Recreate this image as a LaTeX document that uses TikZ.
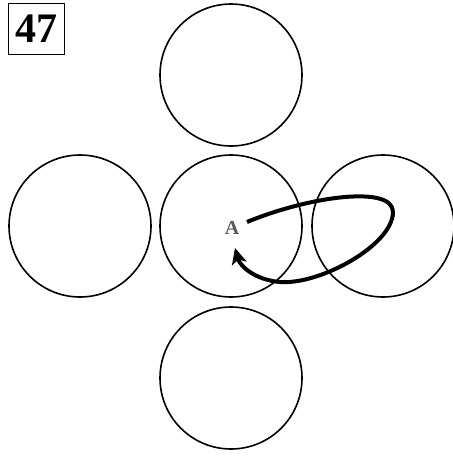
\documentclass[tikz,border=0pt]{standalone}
\usepackage{fontspec}
\setmainfont{Liberation Serif}
\usetikzlibrary{arrows.meta}
\begin{document}
\begin{tikzpicture}[x=1pt,y=-1pt,
  ring/.style={draw,circle,line width=1.6pt,minimum size=142pt,inner sep=0pt},
  numbox/.style={draw,line width=0.8pt,minimum width=56pt,minimum height=51pt,inner sep=0pt,font=\bfseries\fontsize{42}{44}\selectfont},
  lbl/.style={font=\bfseries\fontsize{20}{22}\selectfont,text=black!65}]
\useasboundingbox (0,0) rectangle (453,459);
\node[numbox] (num) at (36.5,29) {47};
\node[ring] (top) at (231,75) {};
\node[ring] (left) at (80,226) {};
\node[ring] (mid) at (231,226) {};
\node[ring] (right) at (383,226) {};
\node[ring] (bot) at (231,378) {};
\node[lbl] (A) at (232,228) {A};
\coordinate (s) at (247,222);
\coordinate (e) at (235,248);
\draw[line width=4pt,-{Stealth[length=16pt,width=15pt,inset=4pt]}] (s) .. controls (310,196) and (393,185) .. (393,212) .. controls (393,245) and (320,285) .. (280,282) .. controls (255,280) and (240,266) .. (e);
\end{tikzpicture}
\end{document}
